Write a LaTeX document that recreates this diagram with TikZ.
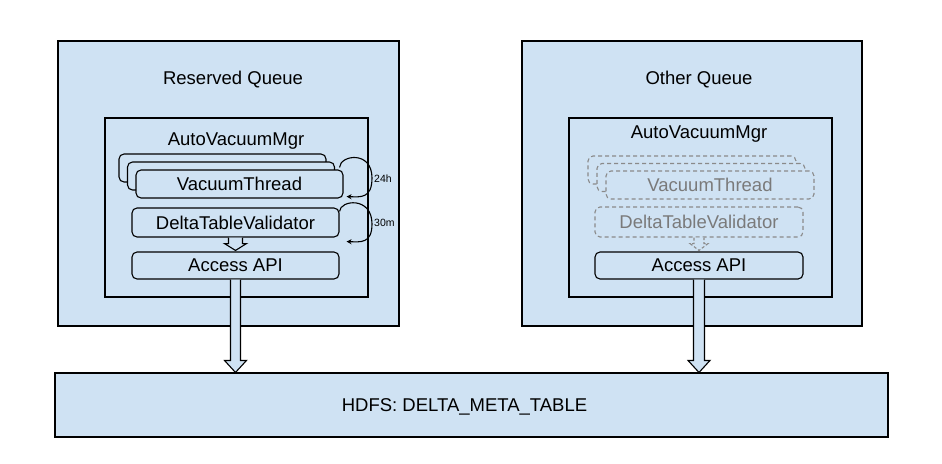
\documentclass[tikz,border=0pt]{standalone}
\usepackage{fontspec}
\setmainfont{Liberation Sans}
\usetikzlibrary{calc,arrows.meta}
\definecolor{fillblue}{HTML}{CFE2F3}
\definecolor{dgray}{HTML}{8A8A8A}
\definecolor{tgray}{HTML}{7A7A7A}
\newcommand\dfont{\fontsize{18.5}{22}\selectfont}
\newcommand\sfont{\fontsize{10.5}{12}\selectfont}
\tikzset{
  box/.style={draw=black, fill=fillblue, line width=1.1pt, inner sep=0pt, font=\dfont},
  rbox/.style={box, rounded corners=5pt},
  dbox/.style={draw=dgray, dashed, dash pattern=on 4pt off 3pt, fill=fillblue, rounded corners=5pt, line width=1.1pt, inner sep=0pt, text=tgray, font=\dfont},
  txt/.style={font=\dfont, inner sep=0pt},
  stxt/.style={font=\sfont, inner sep=0pt},
  barrow/.style={draw=black, fill=fillblue, line width=1.1pt, line join=miter},
  dbarrow/.style={draw=dgray, dashed, dash pattern=on 3pt off 2pt, fill=fillblue, line width=1.1pt},
  loop/.style={draw=black, line width=1.1pt, -{Stealth[length=5pt,width=5pt]}},
}
\begin{document}
\begin{tikzpicture}[x=1pt,y=-1pt]
\useasboundingbox (0,0) rectangle (942,463);
% outer boxes
\node[box, minimum width=341, minimum height=285] (resq) at (228.5,183.5) {};
\node[box, minimum width=340, minimum height=285] (othq) at (692,183.5) {};
\node[box, minimum width=833, minimum height=64] (hdfs) at (471.5,405) {};
\node[txt] (hdfst) at (464.5,407) {HDFS: DELTA\_META\_TABLE};
\node[txt] (restitle) at (233,80) {Reserved Queue};
\node[txt] (othtitle) at (699,80) {Other Queue};
% inner boxes
\node[box, minimum width=263, minimum height=179] (lmgr) at (236.5,207.5) {};
\node[box, minimum width=263, minimum height=179] (rmgr) at (700.5,207.5) {};
\node[txt] (lmgrt) at (236,141) {AutoVacuumMgr};
\node[txt] (rmgrt) at (699,134) {AutoVacuumMgr};
% left components
\node[rbox, minimum width=207, minimum height=28] (lvt1) at (222.5,168) {};
\node[rbox, minimum width=207, minimum height=28] (lvt2) at (231,176) {};
\node[rbox, minimum width=207, minimum height=28] (lvt3) at (239.5,184) {VacuumThread};
\node[rbox, minimum width=207, minimum height=29] (ldtv) at (235.5,222.5) {DeltaTableValidator};
\node[rbox, minimum width=207, minimum height=27] (lapi) at (235.5,265.5) {Access API};
% right components
\node[dbox, minimum width=208, minimum height=28] (rvt1) at (692,170) {};
\node[dbox, minimum width=208, minimum height=28] (rvt2) at (701,177.5) {};
\node[dbox, minimum width=208, minimum height=28] (rvt3) at (710,185) {VacuumThread};
\node[dbox, minimum width=208, minimum height=30] (rdtv) at (699,222) {DeltaTableValidator};
\node[rbox, minimum width=208, minimum height=27] (rapi) at (699,265.5) {Access API};
% small block arrows
\draw[barrow] ($(ldtv.south)+(-7,0)$) -- ($(ldtv.south)+(-7,6)$) -- ($(ldtv.south)+(-11,6)$)
  -- ($(lapi.north)+(0,-1)$) -- ($(ldtv.south)+(11,6)$) -- ($(ldtv.south)+(7,6)$) -- ($(ldtv.south)+(7,0)$);
\draw[dbarrow] ($(rdtv.south)+(-5,0)$) -- ($(rdtv.south)+(-5,6)$) -- ($(rdtv.south)+(-9,6)$)
  -- ($(rapi.north)+(0,-1)$) -- ($(rdtv.south)+(9,6)$) -- ($(rdtv.south)+(5,6)$) -- ($(rdtv.south)+(5,0)$);
% big block arrows
\coordinate (la) at (lapi.south);
\coordinate (lb) at (lapi.south |- hdfs.north);
\draw[barrow] ($(la)+(-5,0)$) -- ($(lb)+(-5,-12)$) -- ($(lb)+(-11,-12)$) -- (lb)
  -- ($(lb)+(11,-12)$) -- ($(lb)+(5,-12)$) -- ($(la)+(5,0)$);
\coordinate (ra) at (rapi.south);
\coordinate (rb) at (rapi.south |- hdfs.north);
\draw[barrow] ($(ra)+(-5.5,0)$) -- ($(rb)+(-5.5,-12)$) -- ($(rb)+(-11,-12)$) -- (rb)
  -- ($(rb)+(11,-12)$) -- ($(rb)+(5.5,-12)$) -- ($(ra)+(5.5,0)$);
% loops
\coordinate (l1s) at ($(lvt3.north east)+(-4,-2)$);
\coordinate (l1e) at ($(lvt3.south east)+(3,-2)$);
\draw[loop] (l1s) .. controls (340,155) and (372,150) .. (372,178) .. controls (372,199) and (360,197) .. (l1e);
\node[stxt, anchor=west] (l24) at (374,179) {24h};
\coordinate (l2s) at ($(ldtv.north east)+(0,4)$);
\coordinate (l2e) at ($(ldtv.south east)+(7,4)$);
\draw[loop] (l2s) .. controls (340,200) and (372,196) .. (372,224) .. controls (372,244) and (360,242) .. (l2e);
\node[stxt, anchor=west] (l30) at (374,223) {30m};
\end{tikzpicture}
\end{document}
